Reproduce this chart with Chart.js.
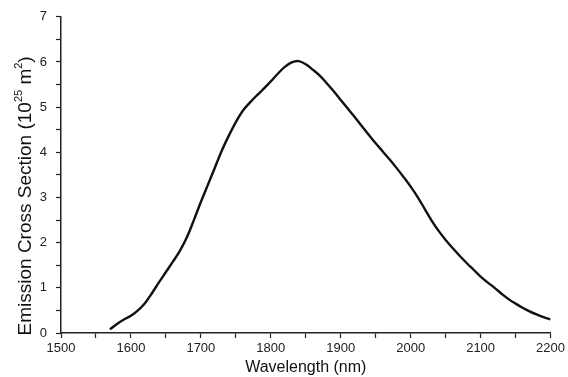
<!DOCTYPE html>
<html>
<head>
<meta charset="utf-8">
<script src="https://cdn.jsdelivr.net/npm/chart.js@4"></script>
<style>
  html, body { margin: 0; padding: 0; background: #fff; }
  #wrap { width: 568px; height: 377px; }
</style>
</head>
<body>
<div id="wrap"><canvas id="chart" width="568" height="377"></canvas></div>
<script>
// wavelength (nm) and emission cross section (1e-25 m^2)
const wavelengths = [1570, 1580, 1590, 1600, 1610, 1620, 1630, 1640, 1650, 1660,
    1670, 1680, 1690, 1700, 1710, 1720, 1730, 1740, 1750, 1760,
    1770, 1780, 1790, 1800, 1810, 1820, 1830, 1840, 1850, 1860,
    1870, 1880, 1890, 1900, 1910, 1920, 1930, 1940, 1950, 1960,
    1970, 1980, 1990, 2000, 2010, 2020, 2030, 2040, 2050, 2060,
    2070, 2080, 2090, 2100, 2110, 2120, 2130, 2140, 2150, 2160,
    2170, 2180, 2190, 2200];
const crossSection = [0.08, 0.2, 0.3, 0.38, 0.5, 0.66, 0.88, 1.12, 1.35, 1.58,
    1.82, 2.12, 2.5, 2.9, 3.28, 3.66, 4.04, 4.37, 4.67, 4.92,
    5.1, 5.26, 5.41, 5.57, 5.74, 5.89, 5.99, 6.02, 5.95, 5.83,
    5.7, 5.53, 5.35, 5.16, 4.97, 4.78, 4.58, 4.39, 4.2, 4.02,
    3.84, 3.65, 3.45, 3.24, 3.01, 2.75, 2.49, 2.26, 2.06, 1.88,
    1.71, 1.55, 1.4, 1.25, 1.12, 1.0, 0.87, 0.75, 0.65, 0.56,
    0.48, 0.41, 0.35, 0.3];
const xTicks = [1500, 1600, 1700, 1800, 1900, 2000, 2100, 2200];
const yTicks = [0, 1, 2, 3, 4, 5, 6, 7];

const points = wavelengths.map((w, i) => ({ x: w, y: crossSection[i] }));
const font = 'Liberation Sans, Arial, sans-serif';

// y title drawn by hand so the exponents can be real superscripts
const yTitle = [
    ['Emission Cross Section (10', false],
    ['25', true],
    [' m', false],
    ['2', true],
    [')', false]
];

const yTitlePlugin = {
    id: 'yTitle',
    afterDraw(chart) {
        const c = chart.ctx;
        const big = '19px ' + font, small = '11px ' + font;
        let total = 0;
        yTitle.forEach(([t, sup]) => { c.font = sup ? small : big; total += c.measureText(t).width; });
        const area = chart.chartArea;
        c.save();
        c.translate(31, (area.top + area.bottom) / 2 + 21);
        c.rotate(-Math.PI / 2);
        c.fillStyle = '#111';
        c.textBaseline = 'alphabetic';
        let x = -total / 2;
        yTitle.forEach(([t, sup]) => {
            c.font = sup ? small : big;
            c.fillText(t, x, sup ? -9 : 0);
            x += c.measureText(t).width;
        });
        c.restore();
    }
};

const ctx = document.getElementById('chart');
const chart = new Chart(ctx, {
    type: 'line',
    data: {
        datasets: [{
            data: points,
            borderColor: '#111',
            borderWidth: 2.4,
            pointRadius: 0,
            tension: 0.35,
            fill: false
        }]
    },
    options: {
        responsive: false,
        animation: false,
        layout: { padding: { top: 14, right: 13, left: 0, bottom: 0 } },
        plugins: {
            legend: { display: false },
            tooltip: { enabled: false }
        },
        scales: {
            x: {
                type: 'linear',
                min: xTicks[0],
                max: xTicks[xTicks.length - 1],
                border: { color: '#222', width: 1.5 },
                grid: { drawOnChartArea: false, tickLength: 5, tickColor: '#222', tickWidth: 1.2 },
                ticks: {
                    stepSize: 50,
                    autoSkip: false,
                    maxRotation: 0,
                    padding: 3,
                    color: '#222',
                    font: { family: font, size: 13 },
                    callback: v => xTicks.includes(v) ? String(v) : ''
                },
                title: {
                    display: true,
                    text: 'Wavelength (nm)',
                    color: '#111',
                    font: { family: font, size: 16 },
                    padding: { top: 0, bottom: 0 }
                },
                afterFit: s => { s.height = 44; }
            },
            y: {
                min: yTicks[0],
                max: yTicks[yTicks.length - 1],
                border: { color: '#222', width: 1.5 },
                grid: { drawOnChartArea: false, tickLength: 5, tickColor: '#222', tickWidth: 1.2 },
                ticks: {
                    stepSize: 0.5,
                    autoSkip: false,
                    padding: 9,
                    color: '#222',
                    font: { family: font, size: 13 },
                    callback: v => yTicks.includes(v) ? String(v) : ''
                },
                title: { display: false },
                afterFit: s => { s.width = 61; }
            }
        }
    },
    plugins: [yTitlePlugin]
});
</script>
</body>
</html>
